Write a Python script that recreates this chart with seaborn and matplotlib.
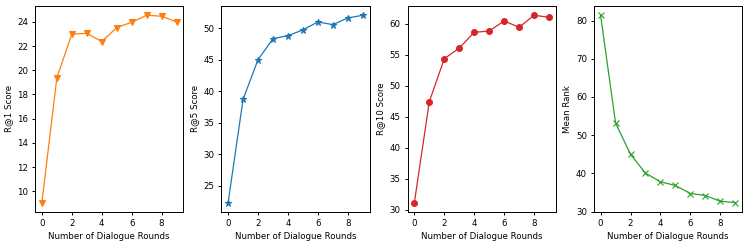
import matplotlib
matplotlib.use("Agg")
import matplotlib.pyplot as plt
import seaborn as sns
import pandas as pd

rounds = [0, 1, 2, 3, 4, 5, 6, 7, 8, 9]
r1 = [9.06, 19.38, 22.98, 23.06, 22.37, 23.53, 23.97, 24.55, 24.47, 24.0]
r5 = [22.3, 38.72, 45.02, 48.36, 48.83, 49.74, 51.0, 50.58, 51.64, 52.07]
r10 = [31.14, 47.46, 54.38, 56.11, 58.65, 58.86, 60.49, 59.46, 61.41, 61.08]
mean_rank = [81.4, 53.2, 44.97, 40.07, 37.79, 36.83, 34.73, 34.2, 32.71, 32.36]

xlabel = "Number of Dialogue Rounds"
ylabels = ["R@1 Score", "R@5 Score", "R@10 Score", "Mean Rank"]
series = [r1, r5, r10, mean_rank]
colors = ["tab:orange", "tab:blue", "tab:red", "tab:green"]
markers = ["v", "*", "o", "x"]

plt.rcParams["font.size"] = 6.2
plt.rcParams["font.family"] = ["DejaVu Sans"]
plt.rcParams["axes.linewidth"] = 0.7

fig, axes = plt.subplots(1, 4, figsize=(7.48, 2.45), dpi=100)
fig.subplots_adjust(left=0.047, right=0.992, top=0.976, bottom=0.135, wspace=0.257)

for ax, vals, lab, c, m in zip(axes, series, ylabels, colors, markers):
    df = pd.DataFrame({"round": rounds, "val": vals})
    sns.lineplot(data=df, x="round", y="val", ax=ax, color=c, marker=m,
                 markersize=4.2 if m != "*" else 5, markeredgecolor=c,
                 markerfacecolor=c, markeredgewidth=0.8, linewidth=0.9)
    ax.set_xlabel(xlabel, labelpad=3)
    ax.set_ylabel(lab, labelpad=3)
    ax.set_xticks([0, 2, 4, 6, 8])
    ax.tick_params(labelsize=6.2, length=2.5, width=0.7, pad=2.5)

fig.savefig("out.png", dpi=100)
